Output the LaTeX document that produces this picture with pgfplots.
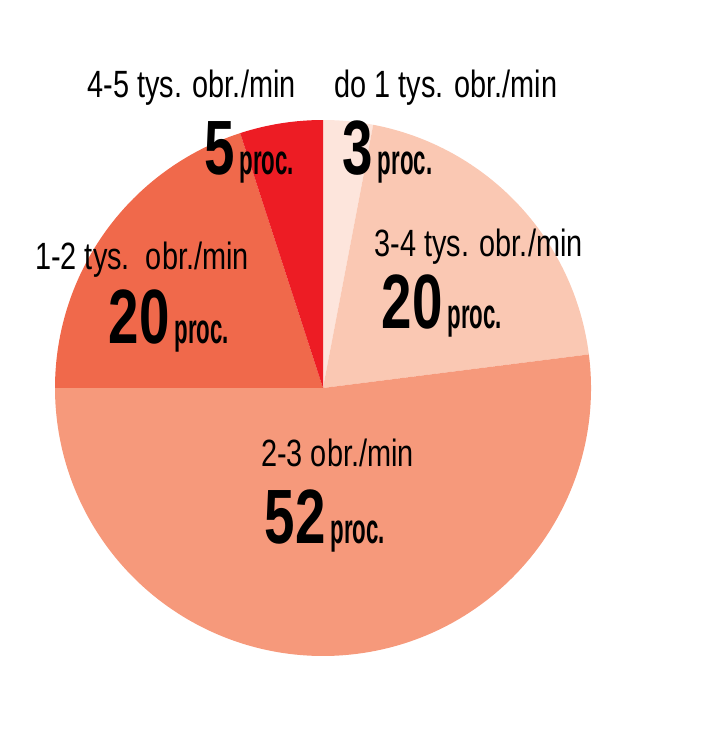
\documentclass[border=0pt]{standalone}
\usepackage{fontspec}
\usepackage{pgfplots}
\usepackage{pgfplotstable}
\pgfplotsset{compat=1.18}
\setmainfont{Liberation Sans}
\newfontfamily\lblfont[FakeStretch=0.76]{Liberation Sans}
\newfontfamily\numfont[FakeStretch=0.71]{Liberation Sans Bold}
\newfontfamily\procfont[FakeStretch=0.53]{Liberation Sans Bold}

\definecolor{sliceA}{HTML}{FDE5DC}
\definecolor{sliceB}{HTML}{FAC8B3}
\definecolor{sliceC}{HTML}{F6997B}
\definecolor{sliceD}{HTML}{F0694B}
\definecolor{sliceE}{HTML}{ED1C24}

% shares in percent, clockwise from 12 o'clock
\pgfplotstableread{
value
3
20
52
20
5
}\piedata

\newcommand{\lbl}[1]{{\lblfont\fontsize{19}{20}\selectfont #1}}
\newcommand{\pct}[1]{{\numfont\fontsize{38.5}{39}\selectfont #1}\hspace{2.5pt}{\procfont\fontsize{21}{22}\selectfont proc.}}

\begin{document}
\begin{tikzpicture}
\pgfplotstablegetelem{0}{value}\of\piedata \let\vA\pgfplotsretval
\pgfplotstablegetelem{1}{value}\of\piedata \let\vB\pgfplotsretval
\pgfplotstablegetelem{2}{value}\of\piedata \let\vC\pgfplotsretval
\pgfplotstablegetelem{3}{value}\of\piedata \let\vD\pgfplotsretval
\pgfplotstablegetelem{4}{value}\of\piedata \let\vE\pgfplotsretval
\pgfmathsetmacro\aA{90}
\pgfmathsetmacro\aB{\aA-3.6*\vA}
\pgfmathsetmacro\aC{\aB-3.6*\vB}
\pgfmathsetmacro\aD{\aC-3.6*\vC}
\pgfmathsetmacro\aE{\aD-3.6*\vD}
\pgfmathsetmacro\aF{\aE-3.6*\vE}
\begin{axis}[
    hide axis,
    scale only axis,
    width=362.5pt,
    height=370.5pt,
    xmin=0, xmax=725,
    ymin=0, ymax=741,
    clip=false,
    every node/.style={inner sep=0pt, outer sep=0pt, text=black},
]
    % keep the full canvas in the bounding box
    \path (axis cs:0,0) rectangle (axis cs:725,741);

    \fill[sliceA] (axis cs:323,353) -- ++(\aA:134pt) arc[start angle=\aA, end angle=\aB, radius=134pt] -- cycle;
    \fill[sliceB] (axis cs:323,353) -- ++(\aB:134pt) arc[start angle=\aB, end angle=\aC, radius=134pt] -- cycle;
    \fill[sliceC] (axis cs:323,353) -- ++(\aC:134pt) arc[start angle=\aC, end angle=\aD, radius=134pt] -- cycle;
    \fill[sliceD] (axis cs:323,353) -- ++(\aD:134pt) arc[start angle=\aD, end angle=\aE, radius=134pt] -- cycle;
    \fill[sliceE] (axis cs:323,353) -- ++(\aE:134pt) arc[start angle=\aE, end angle=\aF, radius=134pt] -- cycle;

    \node[anchor=base] at (axis cs:191.5,643) {\lbl{4-5 tys. obr./min}};
    \node[anchor=base] at (axis cs:446,643) {\lbl{do 1 tys. obr./min}};
    \node[anchor=base] at (axis cs:249,567) {\pct{5}};
    \node[anchor=base] at (axis cs:387.5,567) {\pct{3}};
    \node[anchor=base] at (axis cs:142,471) {\lbl{1-2 tys.\ \ obr./min}};
    \node[anchor=base] at (axis cs:169,397) {\pct{20}};
    \node[anchor=base] at (axis cs:478.5,484) {\lbl{3-4 tys. obr./min}};
    \node[anchor=base] at (axis cs:442,412) {\pct{20}};
    \node[anchor=base] at (axis cs:337.5,274) {\lbl{2-3 obr./min}};
    \node[anchor=base] at (axis cs:325,198) {\pct{52}};
\end{axis}
\end{tikzpicture}
\end{document}
